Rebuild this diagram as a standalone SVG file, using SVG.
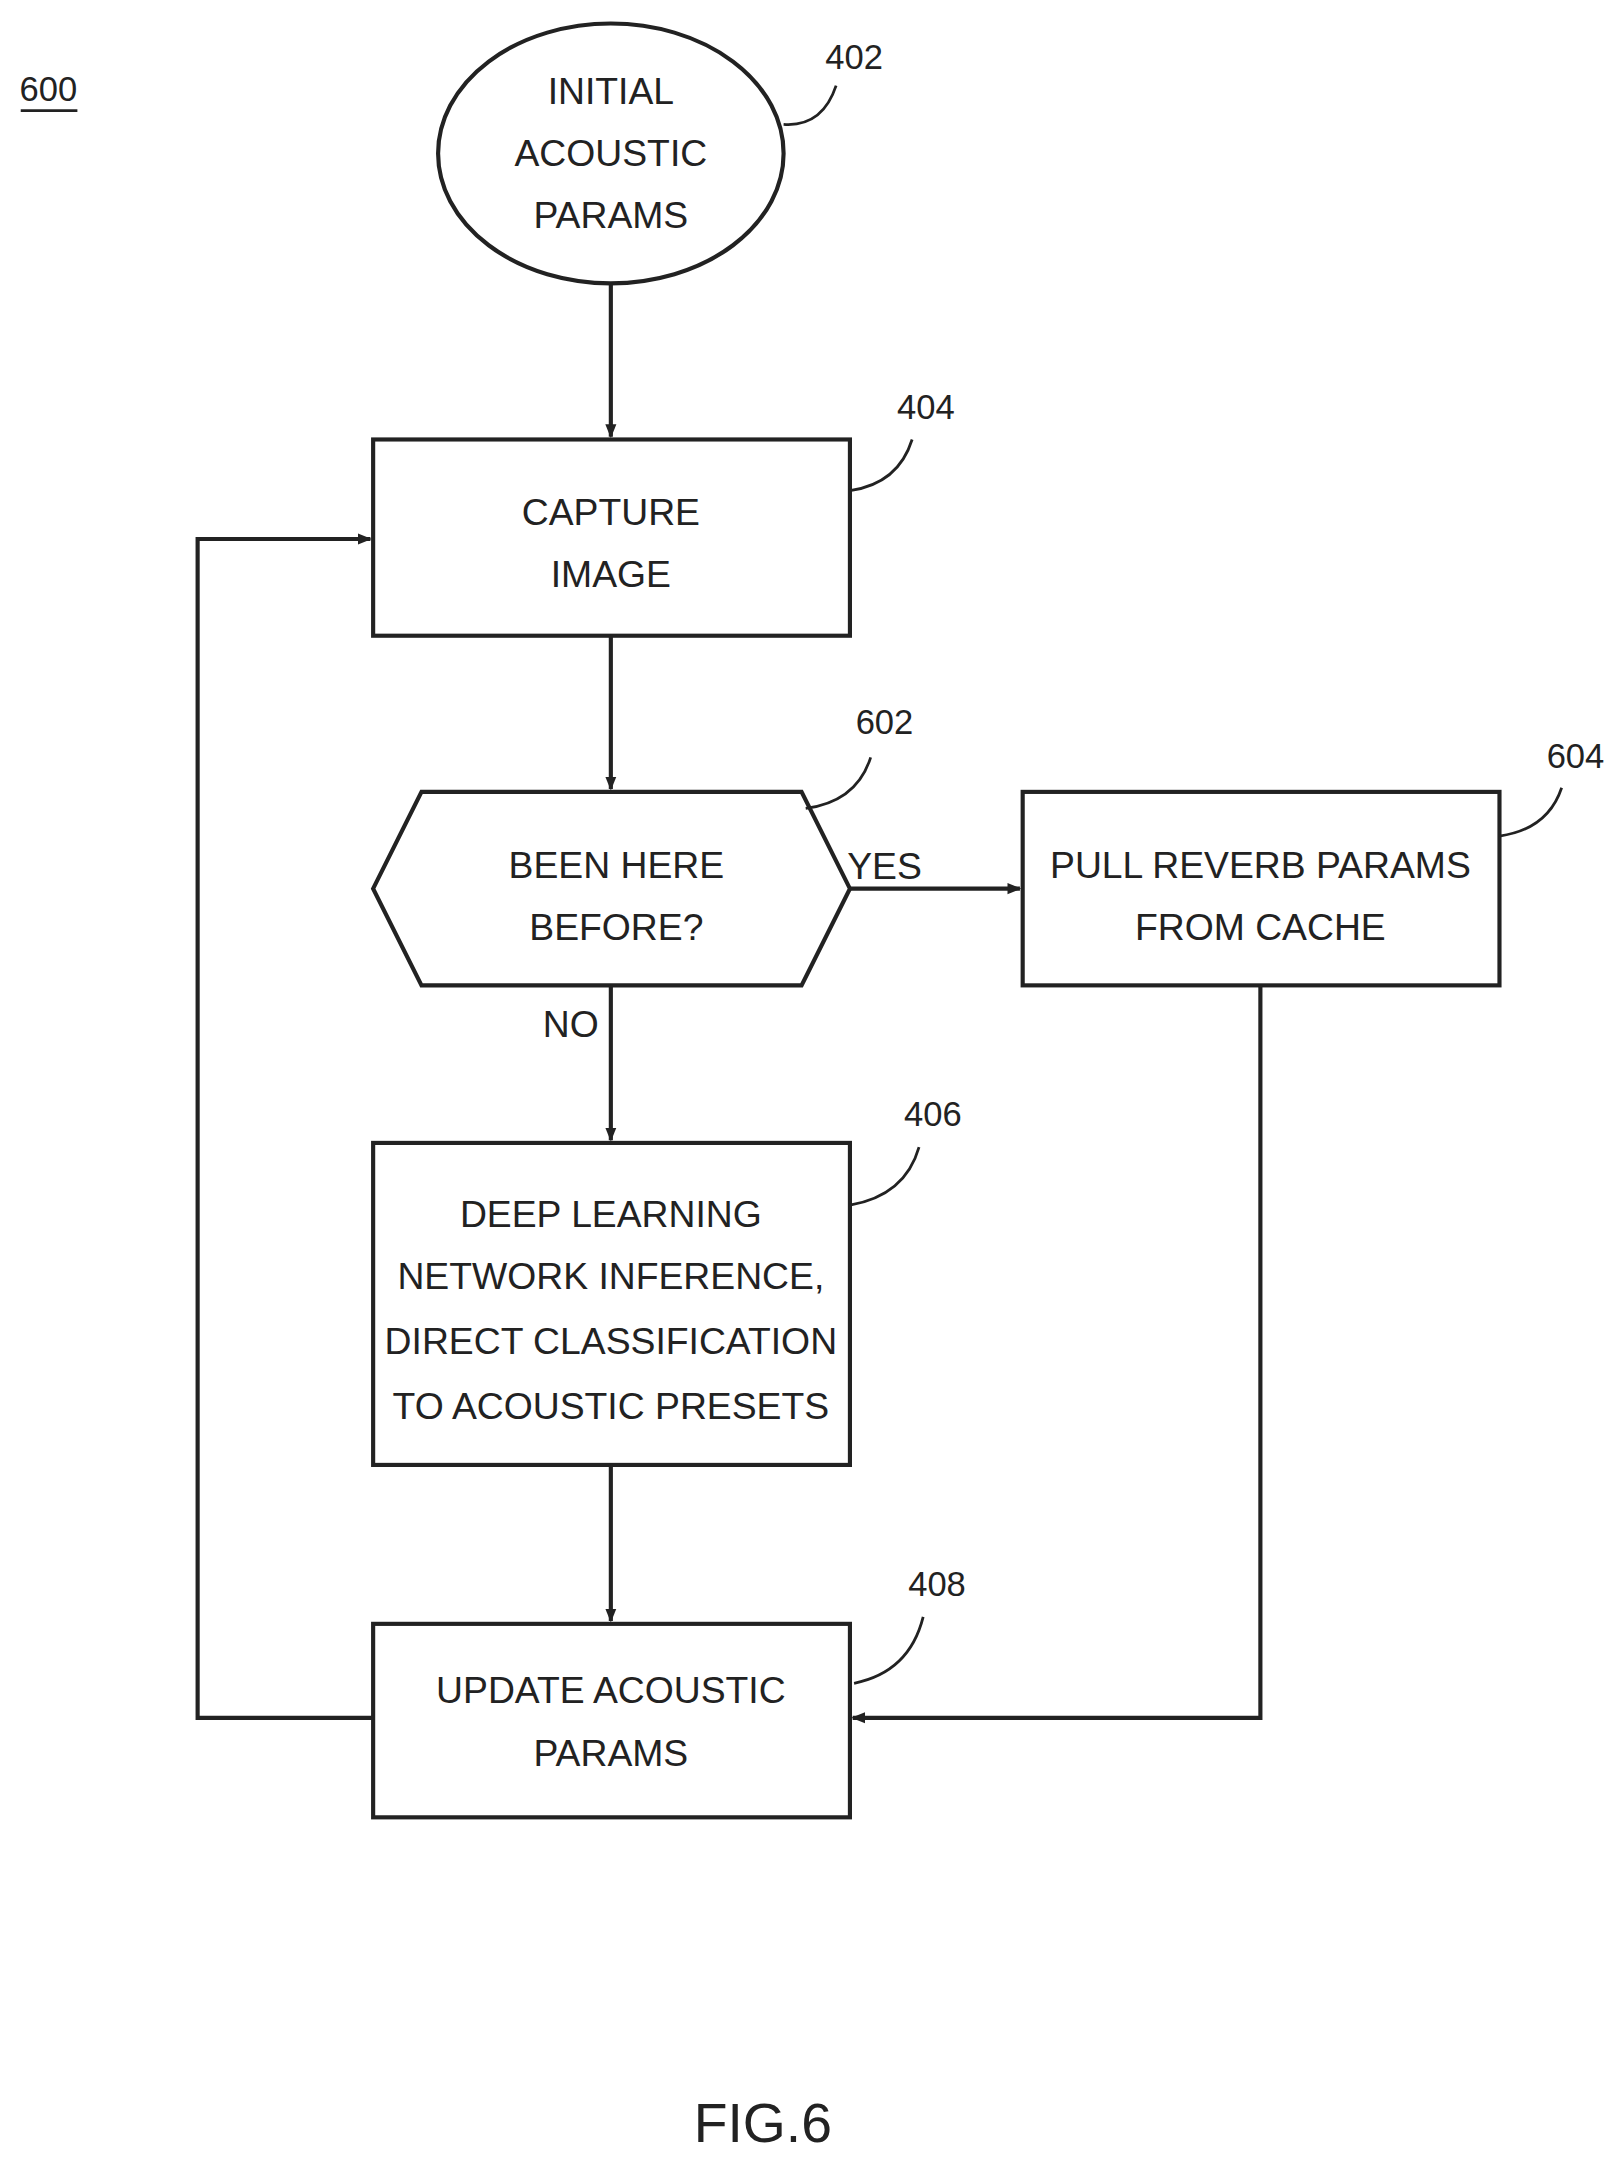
<svg xmlns="http://www.w3.org/2000/svg" width="1617" height="2158" viewBox="0 0 1617 2158">
<style>
.s{fill:none;stroke:#222;stroke-width:3}
.t{font-family:"Liberation Sans",Arial,sans-serif;font-size:27px;fill:#222;text-anchor:middle}
.l{font-family:"Liberation Sans",Arial,sans-serif;font-size:25px;fill:#222;text-anchor:middle}
.c{fill:none;stroke:#222;stroke-width:2}
</style>
<defs><marker id="a" markerWidth="10" markerHeight="10" refX="9" refY="5" orient="auto" markerUnits="userSpaceOnUse"><path d="M0,1 L10,5 L0,9 Z" fill="#222"/></marker></defs>
<rect width="1617" height="2158" fill="#fff"/>
<g transform="scale(1.382)">
<g id="fig"><text class="l" x="35" y="73">600</text><line x1="15" y1="80" x2="56" y2="80" stroke="#222" stroke-width="2"/></g>
<g id="n402"><ellipse class="s" cx="442" cy="111" rx="125" ry="94"/><text class="t" x="442" y="75">INITIAL</text><text class="t" x="442" y="120">ACOUSTIC</text><text class="t" x="442" y="165">PARAMS</text><text class="l" x="618" y="50">402</text><path class="c" d="M567,90 Q595,92 605,62"/></g>
<g id="n404"><rect class="s" x="270" y="318" width="345" height="142"/><text class="t" x="442" y="380">CAPTURE</text><text class="t" x="442" y="425">IMAGE</text><text class="l" x="670" y="303">404</text><path class="c" d="M615,355 Q650,350 660,318"/></g>
<g id="n602"><polygon class="s" points="270,643 305,573 580,573 615,643 580,713 305,713"/><text class="t" x="446" y="635">BEEN HERE</text><text class="t" x="446" y="680">BEFORE?</text><text class="l" x="640" y="531">602</text><path class="c" d="M583,585 Q620,580 630,548"/></g>
<g id="n604"><rect class="s" x="740" y="573" width="345" height="140"/><text class="t" x="912" y="635">PULL REVERB PARAMS</text><text class="t" x="912" y="680">FROM CACHE</text><text class="l" x="1140" y="556">604</text><path class="c" d="M1085,605 Q1120,600 1130,570"/></g>
<g id="n406"><rect class="s" x="270" y="827" width="345" height="233"/><text class="t" x="442" y="888">DEEP LEARNING</text><text class="t" x="442" y="933">NETWORK INFERENCE,</text><text class="t" x="442" y="980">DIRECT CLASSIFICATION</text><text class="t" x="442" y="1027">TO ACOUSTIC PRESETS</text><text class="l" x="675" y="815">406</text><path class="c" d="M615,872 Q655,865 665,830"/></g>
<g id="n408"><rect class="s" x="270" y="1175" width="345" height="140"/><text class="t" x="442" y="1232">UPDATE ACOUSTIC</text><text class="t" x="442" y="1278">PARAMS</text><text class="l" x="678" y="1155">408</text><path class="c" d="M618,1218 Q658,1210 668,1170"/></g>
<g id="connectors">
<line class="s" x1="442" y1="205" x2="442" y2="316" marker-end="url(#a)"/>
<line class="s" x1="442" y1="460" x2="442" y2="571" marker-end="url(#a)"/>
<line class="s" x1="615" y1="643" x2="738" y2="643" marker-end="url(#a)"/>
<text class="t" x="640" y="636">YES</text>
<line class="s" x1="442" y1="713" x2="442" y2="825" marker-end="url(#a)"/>
<text class="t" x="413" y="750">NO</text>
<line class="s" x1="442" y1="1060" x2="442" y2="1173" marker-end="url(#a)"/>
<polyline class="s" points="912,713 912,1243 617,1243" marker-end="url(#a)"/>
<polyline class="s" points="270,1243 143,1243 143,390 268,390" marker-end="url(#a)"/>
</g>
<text class="t" x="552" y="1550" style="font-size:40px">FIG.6</text>
</g>
</svg>
